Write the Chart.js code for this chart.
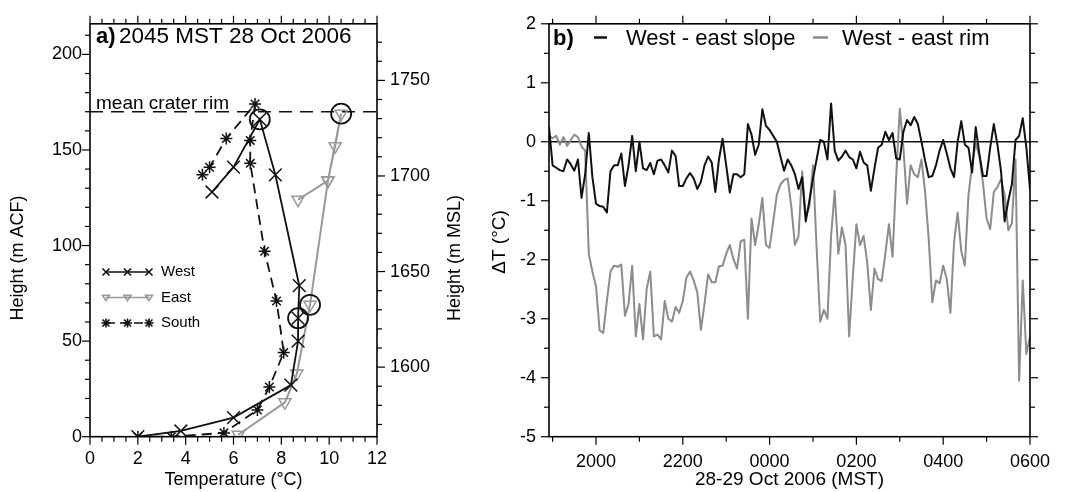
<!DOCTYPE html>
<html>
<head>
<meta charset="utf-8">
<script src="https://cdn.jsdelivr.net/npm/chart.js@4.4.1/dist/chart.umd.min.js"></script>
<style>
  body { margin: 0; background: #fff; }
  #wrap { position: relative; width: 1065px; height: 492px; overflow: hidden; }
  canvas { position: absolute; top: 0; }
  #panelA { left: 0; }
  #panelB { left: 470px; }
</style>
</head>
<body>
<div id="wrap">
  <canvas id="panelA" width="470" height="492"></canvas>
  <canvas id="panelB" width="595" height="492"></canvas>
</div>
<script>
// ---- Panel a: soundings (temperature in °C, height in m ACF)
const westTemp = [2.0, 3.8, 6.0, 8.4, 8.7, 8.7, 8.75, 7.75, 7.1, 6.0, 5.1];
const westHeight = [0, 3, 10, 27, 50, 62, 79, 137, 166, 141, 128];
const eastTemp = [6.2, 8.15, 8.65, 9.2, 9.95, 10.25, 10.5, 9.95, 8.7];
const eastHeight = [1, 18, 33, 69, 134, 152, 169, 134, 124];
const southTemp = [2.0, 3.4, 5.6, 7.0, 7.5, 8.1, 7.8, 7.3, 6.7, 6.7, 6.9, 5.7, 5.0, 4.7];
const southHeight = [0, 0, 2, 14, 26, 44, 71, 97, 143, 155, 174, 156, 141, 137];
// points with a circle round them (indices into the series above)
const westCircled = [5, 8];
const eastCircled = [3, 6];
const rimHeight = 170;
const mslOffset = 1563.6;

// ---- Panel b: temperature differences, 5 min data from 1855 to 0600
const startTime = 18 + 55 / 60;
const stepHours = 5 / 60;
const slopeDiff = [
  0.25, -0.4, -0.44, -0.48, -0.5, -0.3, -0.38, -0.49, -0.3, -0.95,
  -0.55, 0.15, -0.6, -1.05, -1.09, -1.1, -1.2, -0.5, -0.4, -0.4,
  -0.2, -0.75, -0.4, 0.1, -0.5, 0.0, -0.45, -0.48, -0.36, -0.55,
  -0.32, -0.3, -0.4, -0.52, -0.15, -0.24, -0.75, -0.75, -0.62, -0.53,
  -0.62, -0.8, -0.68, -0.4, -0.25, -0.35, -0.85, -0.3, 0.05, -0.4,
  -0.86, -0.55, -0.55, -0.6, -0.55, 0.3, 0.12, -0.22, -0.05, 0.55,
  0.27, 0.2, 0.1, 0.0, -0.25, -0.49, -0.3, -0.4, -0.55, -0.8,
  -0.6, -1.35, -1.0, -0.62, -0.3, 0.03, 0.0, -0.3, 0.65, -0.15,
  -0.32, -0.25, -0.15, -0.26, -0.3, -0.45, -0.17, -0.35, -0.4, -0.83,
  -0.45, -0.1, -0.05, 0.17, 0.03, 0.15, -0.28, -0.3, 0.17, 0.37,
  0.28, 0.42, 0.3, 0.0, -0.32, -0.6, -0.58, -0.4, -0.15, 0.03,
  -0.2, -0.45, -0.6, 0.0, 0.35, -0.05, -0.1, -0.52, 0.25, -0.2,
  -0.58, -0.58, -0.1, 0.3, -0.05, -0.5, -1.35, -1.0, -0.72, 0.03,
  0.1, 0.4, -0.1, -0.8
];
const rimDiff = [
  0.1, 0.06, 0.1, -0.05, 0.08, -0.07, 0.03, 0.12, 0.08, -0.08,
  -0.15, -1.9, -2.2, -2.45, -3.2, -3.24, -2.7, -2.2, -2.1, -2.12,
  -2.08, -2.95, -2.75, -2.1, -3.3, -2.75, -3.35, -2.5, -2.2, -3.3,
  -3.27, -3.35, -2.7, -3.0, -3.05, -2.8, -2.9, -2.7, -2.3, -2.2,
  -2.35, -2.55, -3.19, -2.75, -2.25, -2.38, -2.38, -2.11, -2.1, -1.9,
  -1.75, -1.99, -2.15, -1.69, -1.66, -3.0, -1.3, -1.75, -1.4, -0.95,
  -1.75, -1.8, -1.35, -0.9, -0.72, -0.65, -0.62, -1.1, -1.75, -1.6,
  -0.5, -1.27, -1.1, -0.4, -1.8, -3.05, -2.85, -3.0, -1.6, -0.83,
  -1.9, -1.45, -1.75, -3.3, -2.3, -1.4, -1.75, -1.6, -2.05, -2.85,
  -2.15, -2.33, -2.36, -1.9, -1.4, -1.95, -0.6, 0.56, -0.1, -1.05,
  -0.4, -0.55, -0.6, -0.3, -0.85, -1.65, -2.72, -2.35, -2.4, -2.1,
  -2.33, -2.9, -1.7, -1.2, -1.85, -2.1, -0.9, -0.4, -0.02, -0.25,
  -0.7, -1.3, -1.48, -0.85, -0.77, -0.63, -0.9, -1.5, -1.38, -0.3,
  -4.05, -2.35, -3.6, -3.3
];
const timeTicks = [20, 22, 24, 26, 28, 30];
const timeTickLabels = ["2000", "2200", "0000", "0200", "0400", "0600"];

const FONT = "'Liberation Sans', Arial, Helvetica, sans-serif";
Chart.defaults.font.family = FONT;
Chart.defaults.color = "#000";

const toPoints = (xs, ys) => xs.map((x, i) => ({ x: x, y: ys[i] }));
const times = slopeDiff.map((_, i) => startTime + i * stepHours);
const noGrid = { display: false, drawTicks: false };

// tick marks on all four sides of the frame (major long, minor short)
function drawFrameTicks(chart, specs) {
  const { ctx, chartArea: a, scales } = chart;
  ctx.save();
  ctx.strokeStyle = "#000";
  ctx.lineWidth = 1.2;
  specs.forEach((sp) => {
    const s = scales[sp.id];
    const n0 = Math.ceil(s.min / sp.minor - 1e-6);
    const n1 = Math.floor(s.max / sp.minor + 1e-6);
    for (let n = n0; n <= n1; n++) {
      const v = n * sp.minor;
      const r = v / sp.major;
      const len = Math.abs(r - Math.round(r)) < 1e-6 ? 8 : 5;
      const p = s.getPixelForValue(v);
      sp.sides.forEach((side) => {
        ctx.beginPath();
        if (side === "bottom") { ctx.moveTo(p, a.bottom); ctx.lineTo(p, a.bottom + len); }
        if (side === "top") { ctx.moveTo(p, a.top); ctx.lineTo(p, a.top - len); }
        if (side === "left") { ctx.moveTo(a.left, p); ctx.lineTo(a.left - len, p); }
        if (side === "right") { ctx.moveTo(a.right, p); ctx.lineTo(a.right + len, p); }
        ctx.stroke();
      });
    }
  });
  ctx.lineWidth = 1.6;
  ctx.strokeRect(a.left, a.top, a.right - a.left, a.bottom - a.top);
  ctx.restore();
}

function verticalText(ctx, text, x, y, size) {
  ctx.save();
  ctx.translate(x, y);
  ctx.rotate(-Math.PI / 2);
  ctx.font = size + "px " + FONT;
  ctx.fillStyle = "#000";
  ctx.textAlign = "center";
  ctx.textBaseline = "middle";
  ctx.fillText(text, 0, 0);
  ctx.restore();
}

function drawMark(ctx, mark, x, y, r) {
  ctx.beginPath();
  if (mark === "cross" || mark === "star") {
    ctx.moveTo(x - r, y - r); ctx.lineTo(x + r, y + r);
    ctx.moveTo(x + r, y - r); ctx.lineTo(x - r, y + r);
  }
  if (mark === "star") {
    ctx.moveTo(x - r * 1.3, y); ctx.lineTo(x + r * 1.3, y);
    ctx.moveTo(x, y - r * 1.3); ctx.lineTo(x, y + r * 1.3);
  }
  if (mark === "tri") {
    ctx.moveTo(x - r, y - r * 0.6); ctx.lineTo(x + r, y - r * 0.6);
    ctx.lineTo(x, y + r * 0.9); ctx.closePath();
  }
  ctx.stroke();
}

const legendRows = [
  { label: "West", color: "#111", dash: [], mark: "cross" },
  { label: "East", color: "#999", dash: [], mark: "tri" },
  { label: "South", color: "#111", dash: [9, 5], mark: "star" },
];

const panelAPlugin = {
  id: "panelAPlugin",
  beforeDatasetsDraw(chart) {
    const { ctx, chartArea: a, scales } = chart;
    const y = scales.y.getPixelForValue(rimHeight);
    ctx.save();
    ctx.strokeStyle = "#111";
    ctx.lineWidth = 1.5;
    ctx.setLineDash([13, 8]);
    ctx.beginPath();
    ctx.moveTo(a.left, y);
    ctx.lineTo(a.right, y);
    ctx.stroke();
    ctx.setLineDash([]);
    ctx.font = "19px " + FONT;
    ctx.fillStyle = "#000";
    ctx.textBaseline = "alphabetic";
    ctx.fillText("mean crater rim", a.left + 6, y - 3);
    ctx.restore();
  },
  afterDraw(chart) {
    const { ctx, chartArea: a } = chart;
    drawFrameTicks(chart, [
      { id: "x", sides: ["bottom", "top"], major: 2, minor: 0.5 },
      { id: "y", sides: ["left"], major: 50, minor: 10 },
      { id: "y2", sides: ["right"], major: 50, minor: 10 },
    ]);
    ctx.save();
    // panel title
    ctx.fillStyle = "#000";
    ctx.textBaseline = "alphabetic";
    ctx.font = "bold 22px " + FONT;
    ctx.fillText("a)", a.left + 6, 43);
    ctx.font = "22.5px " + FONT;
    ctx.fillText("2045 MST 28 Oct 2006", a.left + 29, 43);
    // legend
    legendRows.forEach((row, k) => {
      const y = 272 + k * 25.5;
      ctx.strokeStyle = row.color;
      ctx.lineWidth = 1.6;
      ctx.setLineDash(row.dash);
      ctx.beginPath();
      ctx.moveTo(a.left + 16, y);
      ctx.lineTo(a.left + 59, y);
      ctx.stroke();
      ctx.setLineDash([]);
      [16, 37.5, 59].forEach((dx) => drawMark(ctx, row.mark, a.left + dx, y, 3.5));
      ctx.fillStyle = "#000";
      ctx.font = "15px " + FONT;
      ctx.textBaseline = "middle";
      ctx.fillText(row.label, a.left + 71, y);
    });
    ctx.restore();
    verticalText(ctx, "Height (m ACF)", 18, 258, 18);
    verticalText(ctx, "Height (m MSL)", 455, 258, 18);
  },
};

const circled = westCircled.map((i) => ({ x: westTemp[i], y: westHeight[i] }))
  .concat(eastCircled.map((i) => ({ x: eastTemp[i], y: eastHeight[i] })));

new Chart(document.getElementById("panelA"), {
  type: "scatter",
  data: {
    datasets: [
      {
        label: "circled",
        data: circled,
        showLine: false,
        pointStyle: "circle",
        pointRadius: 10,
        pointBackgroundColor: "rgba(0,0,0,0)",
        pointBorderColor: "#111",
        pointBorderWidth: 1.8,
      },
      {
        label: "West",
        data: toPoints(westTemp, westHeight),
        showLine: true,
        borderColor: "#111",
        borderWidth: 1.8,
        pointStyle: "crossRot",
        pointRadius: 9,
        pointBorderColor: "#111",
        pointBorderWidth: 1.5,
      },
      {
        label: "East",
        data: toPoints(eastTemp, eastHeight),
        showLine: true,
        borderColor: "#999",
        borderWidth: 2,
        pointStyle: "triangle",
        pointRotation: 180,
        pointRadius: 7,
        pointBorderColor: "#999",
        pointBackgroundColor: "rgba(0,0,0,0)",
        pointBorderWidth: 1.5,
      },
      {
        label: "South",
        data: toPoints(southTemp, southHeight),
        showLine: true,
        borderColor: "#111",
        borderWidth: 1.8,
        borderDash: [10, 6],
        pointStyle: "star",
        pointRadius: 6,
        pointBorderColor: "#111",
        pointBorderWidth: 1.5,
      },
    ],
  },
  options: {
    responsive: false,
    animation: false,
    events: [],
    plugins: { legend: { display: false }, tooltip: { enabled: false } },
    scales: {
      x: {
        type: "linear",
        position: "bottom",
        min: 0,
        max: 12,
        grid: noGrid,
        border: { display: false },
        ticks: { stepSize: 2, padding: 12, font: { size: 18 }, includeBounds: false, maxRotation: 0, callback: (v) => String(v) },
        title: { display: true, text: "Temperature (°C)", font: { size: 18 }, padding: { top: 0, bottom: 1 } },
        afterFit: (s) => { s.height = 55.3; },
      },
      x2: {
        type: "linear",
        position: "top",
        min: 0,
        max: 12,
        grid: noGrid,
        border: { display: false },
        ticks: { display: false },
        afterFit: (s) => { s.height = 17; },
      },
      y: {
        type: "linear",
        position: "left",
        min: 0,
        max: 216,
        grid: noGrid,
        border: { display: false },
        ticks: { stepSize: 50, padding: 8, font: { size: 18 }, includeBounds: false, callback: (v) => String(v) },
        afterFit: (s) => { s.width = 90; },
      },
      y2: {
        type: "linear",
        position: "right",
        min: mslOffset,
        max: 216 + mslOffset,
        grid: noGrid,
        border: { display: false },
        ticks: { stepSize: 50, padding: 13, font: { size: 18 }, includeBounds: false, callback: (v) => String(Math.round(v)) },
        afterFit: (s) => { s.width = 93; },
      },
    },
  },
  plugins: [panelAPlugin],
});

const panelBPlugin = {
  id: "panelBPlugin",
  beforeDatasetsDraw(chart) {
    const { ctx, chartArea: a, scales } = chart;
    const y = scales.y.getPixelForValue(0);
    ctx.save();
    ctx.strokeStyle = "#111";
    ctx.lineWidth = 1.6;
    ctx.beginPath();
    ctx.moveTo(a.left, y);
    ctx.lineTo(a.right, y);
    ctx.stroke();
    ctx.restore();
  },
  afterDraw(chart) {
    const { ctx, chartArea: a } = chart;
    drawFrameTicks(chart, [
      { id: "x", sides: ["bottom", "top"], major: 2, minor: 1 },
      { id: "y", sides: ["left", "right"], major: 1, minor: 0.5 },
    ]);
    ctx.save();
    ctx.fillStyle = "#000";
    ctx.textBaseline = "alphabetic";
    ctx.font = "bold 22px " + FONT;
    ctx.fillText("b)", a.left + 4, 45);
    ctx.font = "22px " + FONT;
    ctx.fillText("West - east slope", a.left + 77, 45);
    ctx.fillText("West - east rim", a.left + 293, 45);
    ctx.lineWidth = 2.5;
    ctx.strokeStyle = "#111";
    ctx.beginPath();
    ctx.moveTo(a.left + 45, 37.5);
    ctx.lineTo(a.left + 58, 37.5);
    ctx.stroke();
    ctx.strokeStyle = "#888";
    ctx.beginPath();
    ctx.moveTo(a.left + 264, 37.5);
    ctx.lineTo(a.left + 279, 37.5);
    ctx.stroke();
    ctx.restore();
    verticalText(ctx, "ΔT (°C)", 30, 242, 19);
  },
};

new Chart(document.getElementById("panelB"), {
  type: "line",
  data: {
    datasets: [
      {
        label: "West - east slope",
        data: toPoints(times, slopeDiff),
        borderColor: "#111",
        borderWidth: 2,
        pointRadius: 0,
        borderJoinStyle: "round",
        tension: 0,
      },
      {
        label: "West - east rim",
        data: toPoints(times, rimDiff),
        borderColor: "#8c8c8c",
        borderWidth: 2,
        pointRadius: 0,
        borderJoinStyle: "round",
        tension: 0,
      },
    ],
  },
  options: {
    responsive: false,
    animation: false,
    events: [],
    plugins: { legend: { display: false }, tooltip: { enabled: false } },
    scales: {
      x: {
        type: "linear",
        position: "bottom",
        min: startTime,
        max: 30,
        grid: noGrid,
        border: { display: false },
        ticks: {
          stepSize: 2,
          padding: 15,
          font: { size: 18 },
          includeBounds: false,
          maxRotation: 0,
          autoSkip: false,
          callback: (v) => {
            const k = timeTicks.findIndex((t) => Math.abs(t - v) < 1e-6);
            return k < 0 ? "" : timeTickLabels[k];
          },
        },
        title: { display: true, text: "28-29 Oct 2006 (MST)", font: { size: 19 }, padding: { top: 0, bottom: 1 } },
        afterFit: (s) => { s.height = 55.3; },
      },
      x2: {
        type: "linear",
        position: "top",
        min: startTime,
        max: 30,
        grid: noGrid,
        border: { display: false },
        ticks: { display: false },
        afterFit: (s) => { s.height = 17; },
      },
      y: {
        type: "linear",
        position: "left",
        min: -5,
        max: 2,
        grid: noGrid,
        border: { display: false },
        ticks: { stepSize: 1, padding: 13, font: { size: 18 }, callback: (v) => String(v) },
        afterFit: (s) => { s.width = 79; },
      },
      y2: {
        type: "linear",
        position: "right",
        min: -5,
        max: 2,
        grid: noGrid,
        border: { display: false },
        ticks: { display: false },
        afterFit: (s) => { s.width = 25; },
      },
    },
  },
  plugins: [panelBPlugin],
});
</script>
</body>
</html>
